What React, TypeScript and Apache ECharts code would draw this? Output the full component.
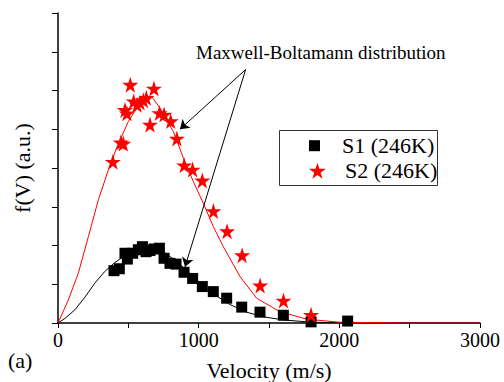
import React, { useEffect, useRef } from "react";
import * as echarts from "echarts";

const xTicks = [0, 1000, 2000, 3000];

const s1Name = "S1 (246K)";
const s2Name = "S2 (246K)";

const s1Data: [number, number][] = [
  [398, 1.35], [436, 1.4], [476, 1.8], [493, 1.65], [531, 1.8], [571, 1.89],
  [600, 1.97], [626, 1.84], [654, 1.87], [682, 1.91], [721, 1.93], [754, 1.67],
  [796, 1.54], [839, 1.52], [896, 1.31], [957, 1.15], [1026, 0.94], [1104, 0.81],
  [1199, 0.64], [1306, 0.41], [1436, 0.28], [1602, 0.2], [1799, 0.03], [2059, 0.05],
];

const s2Data: [number, number][] = [
  [390, 4.16], [447, 4.66], [464, 4.63], [476, 5.5], [490, 5.41], [514, 6.15],
  [538, 5.72], [562, 5.63], [583, 5.69], [607, 5.75], [628, 5.81], [654, 5.12],
  [682, 6.05], [721, 5.42], [754, 5.38], [801, 5.21], [845, 4.76], [897, 4.07],
  [957, 3.96], [1026, 3.68], [1105, 2.89], [1202, 2.37], [1309, 1.75], [1437, 0.97],
  [1603, 0.58], [1799, 0.21],
];

const mbBlack: [number, number][] = [
  [0, 0], [50, 0.12], [120, 0.34], [190, 0.66], [260, 1.02], [330, 1.32], [400, 1.55],
  [480, 1.75], [560, 1.88], [650, 1.94], [750, 1.84], [850, 1.57], [950, 1.24], [1030, 0.97],
  [1100, 0.76], [1220, 0.48], [1340, 0.28], [1460, 0.16], [1600, 0.08], [1800, 0.02],
  [2000, 0.005], [2500, 0], [3000, 0],
];

const mbRed: [number, number][] = [
  [0, 0], [73, 0.59], [144, 1.28], [216, 2.23], [287, 3.18], [358, 3.95], [420, 4.55],
  [500, 5.2], [570, 5.6], [630, 5.82], [665, 5.85], [725, 5.55], [820, 4.94], [891, 4.26],
  [962, 3.65], [1033, 3.09], [1104, 2.49], [1175, 1.97], [1294, 1.2], [1412, 0.64],
  [1578, 0.29], [1768, 0.1], [2000, 0.02], [2500, 0], [3000, 0],
];

const arrowApex: [number, number] = [1334, 6.54];
const arrowEnds: [number, number][] = [
  [867, 5.0],
  [903, 1.45],
];

const annotation = "Maxwell-Boltamann distribution";
const xName = "Velocity (m/s)";
const yName = "f(V) (a.u.)";
const panelLabel = "(a)";

const FONT = "Liberation Serif";
const STAR =
  "path://M50,0 L61,35 L98,35 L68,57 L79,91 L50,70 L21,91 L32,57 L2,35 L39,35 Z";
const SQUARE = "path://M0,0 L10,0 L10,10 L0,10 Z";

export default function App() {
  const ref = useRef<HTMLDivElement>(null);
  useEffect(() => {
    if (!ref.current) return;
    const chart = echarts.init(ref.current, null, { renderer: "svg" });
    const legendCommon = {
      orient: "vertical",
      left: 309,
      padding: 0,
      itemWidth: 45,
      itemGap: 0,
      inactiveColor: "#000",
      textStyle: { fontFamily: FONT, fontSize: 22, color: "#000", lineHeight: 22 },
    };
    chart.setOption({
      animation: false,
      backgroundColor: "#fff",
      textStyle: { fontFamily: FONT },
      grid: { left: 58, right: 24, top: 13, bottom: 59, containLabel: false, outerBoundsMode: "none" },
      legend: [
        { ...legendCommon, top: 134.7, itemHeight: 11, data: [{ name: s1Name, icon: SQUARE }] },
        { ...legendCommon, top: 159.7, itemHeight: 16, data: [{ name: s2Name, icon: STAR }] },
      ],
      graphic: [
        {
          type: "rect",
          shape: { x: 279.5, y: 130.5, width: 158, height: 55 },
          style: { fill: "none", stroke: "#333", lineWidth: 1 },
          z: 10,
        },
        {
          type: "text",
          x: 196,
          y: 52,
          style: {
            text: annotation,
            fontFamily: FONT,
            fontSize: 19,
            fill: "#000",
            verticalAlign: "middle",
          },
        },
        {
          type: "text",
          x: 8,
          y: 360,
          style: {
            text: panelLabel,
            fontFamily: FONT,
            fontSize: 22,
            fill: "#000",
            verticalAlign: "middle",
          },
        },
      ],
      xAxis: {
        type: "value",
        min: 0,
        max: 3000,
        interval: 500,
        name: xName,
        nameLocation: "middle",
        nameGap: 36,
        nameTextStyle: { fontFamily: FONT, fontSize: 22, color: "#000" },
        axisLine: { show: true, onZero: false, lineStyle: { color: "#000", width: 1.5 } },
        axisTick: { show: true, length: 5, lineStyle: { color: "#000", width: 1 } },
        axisLabel: {
          margin: 7,
          fontFamily: FONT,
          fontSize: 20,
          color: "#000",
          formatter: (v: number) => (xTicks.includes(v) ? String(v) : ""),
        },
        splitLine: { show: false },
      },
      yAxis: {
        type: "value",
        min: 0,
        max: 8,
        interval: 1,
        name: yName,
        nameLocation: "middle",
        nameGap: 25,
        nameTextStyle: { fontFamily: FONT, fontSize: 22, color: "#000" },
        axisLine: { show: true, onZero: false, lineStyle: { color: "#000", width: 1.5 } },
        axisTick: { show: true, length: 6, lineStyle: { color: "#000", width: 1 } },
        axisLabel: { show: false },
        splitLine: { show: false },
      },
      series: [
        {
          type: "line",
          data: mbBlack,
          showSymbol: false,
          symbol: "none",
          lineStyle: { color: "#000", width: 1 },
          z: 2,
          markLine: {
            silent: true,
            symbol: ["none", "arrow"],
            symbolSize: 9,
            label: { show: false },
            lineStyle: { color: "#000", width: 1, type: "solid" },
            data: arrowEnds.map((e) => [
              { coord: arrowApex },
              { coord: e },
            ]),
          },
        },
        {
          type: "line",
          data: mbRed,
          showSymbol: false,
          symbol: "none",
          lineStyle: { color: "#ff0000", width: 1 },
          z: 2,
        },
        {
          name: s1Name,
          type: "scatter",
          data: s1Data,
          symbol: "rect",
          symbolSize: 11,
          itemStyle: { color: "#000", opacity: 1 },
          z: 3,
        },
        {
          name: s2Name,
          type: "scatter",
          data: s2Data,
          symbol: STAR,
          symbolSize: 16,
          itemStyle: { color: "#ff0000", opacity: 1 },
          z: 4,
        },
      ],
    });
    return () => chart.dispose();
  }, []);
  return <div ref={ref} style={{ width: 504, height: 382, position: "absolute", left: 0, top: 0 }} />;
}
